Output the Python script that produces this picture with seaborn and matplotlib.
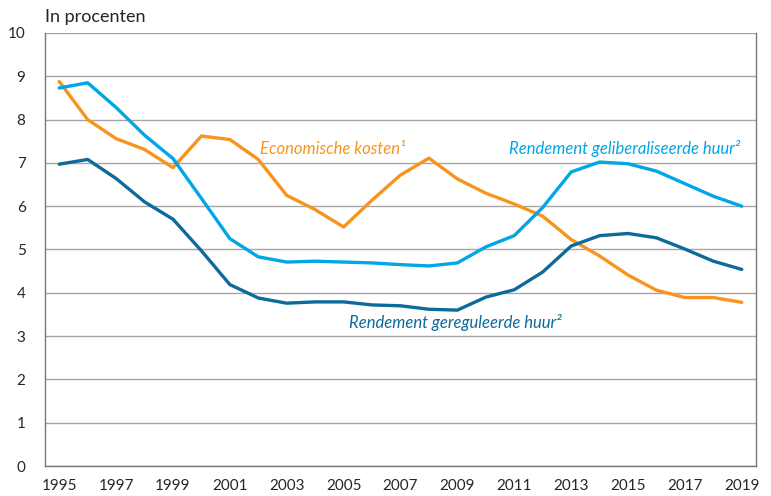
import numpy as np
import pandas as pd
import matplotlib
matplotlib.use("Agg")
import matplotlib.pyplot as plt
import seaborn as sns

years = list(range(1995, 2020))

economische_kosten = [8.88, 8.00, 7.56, 7.31, 6.89, 7.62, 7.54, 7.08, 6.25, 5.92,
                      5.52, 6.14, 6.72, 7.11, 6.63, 6.30, 6.05, 5.77, 5.23, 4.85,
                      4.41, 4.06, 3.89, 3.89, 3.78]
geliberaliseerd = [8.73, 8.85, 8.28, 7.64, 7.10, 6.18, 5.25, 4.83, 4.71, 4.73,
                   4.71, 4.69, 4.65, 4.62, 4.69, 5.06, 5.32, 5.97, 6.79, 7.02,
                   6.98, 6.81, 6.52, 6.23, 6.00]
gereguleerd = [6.97, 7.08, 6.64, 6.10, 5.70, 4.97, 4.19, 3.88, 3.76, 3.79,
               3.79, 3.72, 3.70, 3.62, 3.60, 3.90, 4.07, 4.48, 5.08, 5.32,
               5.37, 5.27, 5.01, 4.73, 4.54]

series_names = ["Economische kosten", "Rendement geliberaliseerde huur",
                "Rendement gereguleerde huur"]
colors = ["#F7941D", "#00A6E6", "#0D6B9C"]

df = pd.DataFrame({
    "jaar": years * 3,
    "waarde": economische_kosten + geliberaliseerd + gereguleerd,
    "reeks": [series_names[0]] * 25 + [series_names[1]] * 25 + [series_names[2]] * 25,
})

sns.set_style("white")
plt.rcParams['font.family'] = ['Lato', 'DejaVu Sans']

fig = plt.figure(figsize=(7.71, 4.96), dpi=100)
ax = fig.add_axes([45/771, 1-466/496, (756-45)/771, (466-33)/496])

sns.lineplot(data=df, x="jaar", y="waarde", hue="reeks", palette=colors,
             hue_order=series_names, linewidth=2.4, legend=False, ax=ax)

ax.set_xlim(1994.5, 2019.5)
ax.set_ylim(0, 10)
ax.set_yticks(range(0, 11))
ax.yaxis.grid(True, color="#A6A6A6", linewidth=1.0)
ax.set_axisbelow(True)

# x: tick marks between years, labels on odd years
ax.set_xticks(np.arange(1994.5, 2020, 1))
ax.set_xticklabels([])
ax.set_xticks(range(1995, 2020, 2), minor=True)
ax.set_xticklabels([str(y) for y in range(1995, 2020, 2)], minor=True)
ax.tick_params(axis="x", which="major", direction="out", length=5, color="#777777", width=1)
ax.tick_params(axis="x", which="minor", length=0, pad=9, labelsize=11)
ax.tick_params(axis="y", direction="out", length=5, color="#777777", width=1, labelsize=11, pad=9)

for side in ["left", "right", "bottom"]:
    ax.spines[side].set_color("#777777")
    ax.spines[side].set_linewidth(1.0)
ax.spines["top"].set_visible(False)

ax.set_xlabel("")
ax.set_ylabel("")

fig.text(45/771, 1-17/496, "In procenten", fontsize=13, ha="left", va="center")

ax.text(2002.05, 7.2, "Economische kosten\u00b9", color=colors[0], fontsize=12,
        style="italic", ha="left", va="baseline")
ax.text(2010.8, 7.2, "Rendement geliberaliseerde huur\u00b2", color=colors[1], fontsize=12,
        style="italic", ha="left", va="baseline")
ax.text(2005.2, 3.19, "Rendement gereguleerde huur\u00b2", color=colors[2], fontsize=12,
        style="italic", ha="left", va="baseline")

fig.savefig("out.png", dpi=100)
